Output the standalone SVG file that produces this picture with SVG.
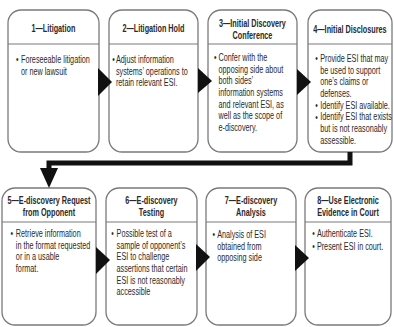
<svg xmlns="http://www.w3.org/2000/svg" width="394" height="327" viewBox="0 0 394 327">
  <style>
    .box { fill: #ffffff; stroke: #7a7a7a; stroke-width: 1.3; }
    .rule { stroke: #7a7a7a; stroke-width: 1.2; }
    .title { font-family: "Liberation Sans", Arial, sans-serif; font-size: 11px; font-weight: bold; fill: #2a2a2a; text-anchor: middle; }
    .body { font-family: "Liberation Sans", Arial, sans-serif; font-size: 11px; fill: #2a2a2a; }
    .step { fill: #111111; }
    .flow { fill: none; stroke: #111111; stroke-width: 5; }
  </style>
  <rect width="394" height="327" fill="#ffffff"/>

  <!-- step 1 -->
  <g id="n1">
    <rect class="box" x="8" y="10" width="91" height="142" rx="13"/>
    <line class="rule" x1="8" y1="44" x2="99" y2="44"/>
    <g transform="translate(8,0) scale(0.66,1)">
      <text class="title" x="68.9" y="32">1—Litigation</text>
      <text class="body" x="12" y="63">•</text>
      <text class="body"><tspan x="19.7" y="63">Foreseeable litigation</tspan><tspan x="19.7" y="74.7">or new lawsuit</tspan></text>
    </g>
  </g>

  <!-- step 2 -->
  <g id="n2">
    <rect class="box" x="109" y="10" width="89" height="142" rx="13"/>
    <line class="rule" x1="109" y1="44" x2="198" y2="44"/>
    <g transform="translate(109,0) scale(0.66,1)">
      <text class="title" x="67.4" y="32">2—Litigation Hold</text>
      <text class="body" x="5" y="63">•</text>
      <text class="body"><tspan x="10.5" y="63">Adjust information</tspan><tspan x="10.5" y="74.7">systems’ operations to</tspan><tspan x="10.5" y="86.4">retain relevant ESI.</tspan></text>
    </g>
  </g>

  <!-- step 3 -->
  <g id="n3">
    <rect class="box" x="208" y="10" width="89" height="142" rx="13"/>
    <line class="rule" x1="208" y1="44" x2="297" y2="44"/>
    <g transform="translate(208,0) scale(0.66,1)">
      <text class="title"><tspan x="67.4" y="27">3—Initial Discovery</tspan><tspan x="67.4" y="39">Conference</tspan></text>
      <text class="body" x="9" y="61">•</text>
      <text class="body"><tspan x="16" y="61">Confer with the</tspan><tspan x="16" y="72.7">opposing side about</tspan><tspan x="16" y="84.4">both sides’</tspan><tspan x="16" y="96.1">information systems</tspan><tspan x="16" y="107.8">and relevant ESI, as</tspan><tspan x="16" y="119.5">well as the scope of</tspan><tspan x="16" y="131.2">e-discovery.</tspan></text>
    </g>
  </g>

  <!-- step 4 -->
  <g id="n4">
    <rect class="box" x="308" y="10" width="84" height="142" rx="13"/>
    <line class="rule" x1="308" y1="44" x2="392" y2="44"/>
    <g transform="translate(308,0) scale(0.66,1)">
      <text class="title" x="63.6" y="33">4—Initial Disclosures</text>
      <text class="body"><tspan x="11" y="62">•</tspan><tspan x="11" y="109">•</tspan><tspan x="11" y="120.7">•</tspan></text>
      <text class="body"><tspan x="18.5" y="62">Provide ESI that may</tspan><tspan x="18.5" y="73.7">be used to support</tspan><tspan x="18.5" y="85.4">one’s claims or</tspan><tspan x="18.5" y="97.1">defenses.</tspan><tspan x="18.5" y="108.8">Identify ESI available.</tspan><tspan x="18.5" y="120.5">Identify ESI that exists</tspan><tspan x="18.5" y="132.2">but is not reasonably</tspan><tspan x="18.5" y="143.9">assessible.</tspan></text>
    </g>
  </g>

  <!-- step 5 -->
  <g id="n5">
    <rect class="box" x="2" y="188" width="94" height="137" rx="13"/>
    <line class="rule" x1="2" y1="222" x2="96" y2="222"/>
    <g transform="translate(2,0) scale(0.66,1)">
      <text class="title"><tspan x="71.2" y="204">5—E-discovery Request</tspan><tspan x="71.2" y="216">from Opponent</tspan></text>
      <text class="body" x="13" y="237">•</text>
      <text class="body"><tspan x="21" y="237">Retrieve information</tspan><tspan x="21" y="248.7">in the format requested</tspan><tspan x="21" y="260.4">or in a usable</tspan><tspan x="21" y="272.1">format.</tspan></text>
    </g>
  </g>

  <!-- step 6 -->
  <g id="n6">
    <rect class="box" x="106" y="188" width="91" height="137" rx="13"/>
    <line class="rule" x1="106" y1="222" x2="197" y2="222"/>
    <g transform="translate(106,0) scale(0.66,1)">
      <text class="title"><tspan x="68.9" y="204">6—E-discovery</tspan><tspan x="68.9" y="216">Testing</tspan></text>
      <text class="body" x="8" y="237">•</text>
      <text class="body"><tspan x="16" y="237">Possible test of a</tspan><tspan x="16" y="248.7">sample of opponent’s</tspan><tspan x="16" y="260.4">ESI to challenge</tspan><tspan x="16" y="272.1">assertions that certain</tspan><tspan x="16" y="283.8">ESI is not reasonably</tspan><tspan x="16" y="295.5">accessible</tspan></text>
    </g>
  </g>

  <!-- step 7 -->
  <g id="n7">
    <rect class="box" x="206" y="188" width="90" height="137" rx="13"/>
    <line class="rule" x1="206" y1="222" x2="296" y2="222"/>
    <g transform="translate(206,0) scale(0.66,1)">
      <text class="title"><tspan x="68.2" y="204">7—E-discovery</tspan><tspan x="68.2" y="216">Analysis</tspan></text>
      <text class="body" x="10" y="238">•</text>
      <text class="body"><tspan x="17" y="238">Analysis of ESI</tspan><tspan x="17" y="249.7">obtained from</tspan><tspan x="17" y="261.4">opposing side</tspan></text>
    </g>
  </g>

  <!-- step 8 -->
  <g id="n8">
    <rect class="box" x="305" y="188" width="86" height="137" rx="13"/>
    <line class="rule" x1="305" y1="222" x2="391" y2="222"/>
    <g transform="translate(305,0) scale(0.66,1)">
      <text class="title"><tspan x="65.2" y="204">8—Use Electronic</tspan><tspan x="65.2" y="216">Evidence in Court</tspan></text>
      <text class="body"><tspan x="11" y="237">•</tspan><tspan x="11" y="249.7">•</tspan></text>
      <text class="body"><tspan x="18" y="237">Authenticate ESI.</tspan><tspan x="18" y="249.7">Present ESI in court.</tspan></text>
    </g>
  </g>

  <!-- connectors -->
  <g id="connectors">
    <polygon class="step" points="98,68 112,82 98,96"/>
    <polygon class="step" points="198,68 212,81 198,93"/>
    <polygon class="step" points="297,69 311,82 297,95"/>
    <polygon class="step" points="96,247 110,260 96,274"/>
    <polygon class="step" points="196,244 210,257 196,271"/>
    <polygon class="step" points="295,245 309,258 295,271"/>
    <polyline class="flow" points="350,152 350,163 49,163 49,170"/>
    <polygon class="step" points="40,168 58,168 49,188"/>
  </g>
</svg>
